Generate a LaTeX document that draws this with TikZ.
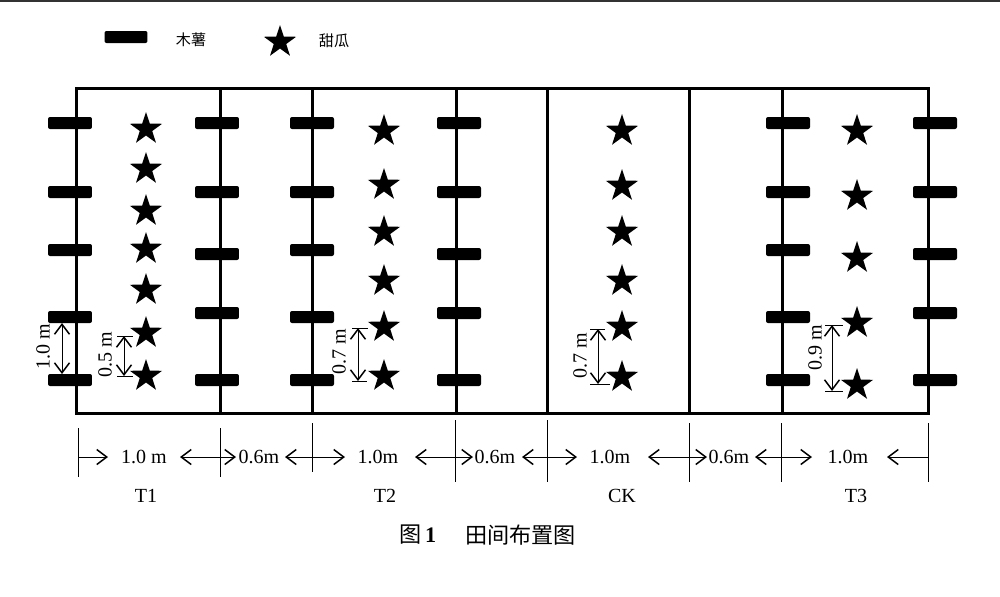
\documentclass[tikz,border=0pt]{standalone}
\usepackage{fontspec}
\setmainfont{Liberation Serif}
\newfontfamily\cjk{Noto Sans CJK SC}
\usetikzlibrary{shapes.geometric,arrows.meta}
\begin{document}
\begin{tikzpicture}[x=0.02cm,y=-0.02cm,
  frame/.style={line width=0.06cm,line cap=rect},
  bar/.style={fill=black,rounded corners=0.04cm,minimum width=0.88cm,minimum height=0.24cm,inner sep=0,draw=none},
  melon/.style={star,star points=5,star point ratio=2.6,fill=black,minimum size=0.68cm,inner sep=0,draw=none},
  dimline/.style={line width=0.02cm},
  tipr/.style={-{Straight Barb[length=0.2cm,width=0.3cm,line width=0.03cm]}},
  tipb/.style={{Straight Barb[length=0.2cm,width=0.3cm,line width=0.03cm]}-{Straight Barb[length=0.2cm,width=0.3cm,line width=0.03cm]}},
  lab/.style={font=\fontsize{11.4}{13}\selectfont,inner sep=0},
  cjklab/.style={font=\cjk\fontsize{8.6}{10}\selectfont,inner sep=0},
  caption/.style={font=\fontsize{12.6}{14}\selectfont,inner sep=0}
]
\useasboundingbox (0,0) rectangle (1000,596);
% top rule
\draw[line width=0.04cm,black!80] (0,1) -- (1000,1);

% legend
\node[bar,minimum width=0.86cm] (legbar) at (126,37) {};
\node[cjklab] (legcas) at (191,40) {木薯};
\node[melon] (legstar) at (280,42) {};
\node[cjklab] (legmel) at (334,41) {甜瓜};

% field frame
\coordinate (tl) at (76,88);
\coordinate (br) at (928,413);
\draw[frame] (tl) rectangle (br);
\foreach \x/\n in {220/v1,312/v2,456/v3,547/v4,689/v5,782/v6}{
  \coordinate (\n t) at (\x,88);
  \coordinate (\n b) at (\x,413);
  \draw[frame] (\n t) -- (\n b);
}

% cassava bars
\foreach \cx/\nm in {70/a,312/c,788/e}{
  \foreach \y [count=\i] in {123,192,250,317,380}{
    \node[bar] (bar\nm\i) at (\cx,\y) {};
  }
}
\foreach \cx/\nm in {217/b,459/d,935/f}{
  \foreach \y [count=\i] in {123,192,254,313,380}{
    \node[bar] (bar\nm\i) at (\cx,\y) {};
  }
}

% melons
\foreach \y [count=\i] in {129,169,211,249,290,333,376}{
  \node[melon] (sA\i) at (146,\y) {};
}
\foreach \y [count=\i] in {131,185,232,281,327,376}{
  \node[melon] (sB\i) at (384,\y) {};
}
\foreach \y [count=\i] in {131,186,232,281,327,377}{
  \node[melon] (sC\i) at (622,\y) {};
}
\foreach \y [count=\i] in {131,196,258,323,385}{
  \node[melon] (sD\i) at (857,\y) {};
}

% vertical dimensions
\coordinate (p1a) at (62,323); \coordinate (p1b) at (62,374);
\draw[dimline,tipb] (p1a) -- (p1b);
\node[lab,rotate=90] (l1) at (43,347) {1.0 m};

\coordinate (p2a) at (124,336); \coordinate (p2b) at (124,376);
\draw[dimline] (117,336) -- (133,336);
\draw[dimline] (117,376) -- (133,376);
\draw[dimline,tipb] (p2a) -- (p2b);
\node[lab,rotate=90] (l2) at (105,355) {0.5 m};

\coordinate (p3a) at (358,328); \coordinate (p3b) at (358,381);
\draw[dimline] (352,328) -- (368,328);
\draw[dimline] (352,381) -- (367,381);
\draw[dimline,tipb] (p3a) -- (p3b);
\node[lab,rotate=90] (l3) at (339,352) {0.7 m};

\coordinate (p4a) at (598,329); \coordinate (p4b) at (598,384);
\draw[dimline] (590,329) -- (605,329);
\draw[dimline] (590,384) -- (610,384);
\draw[dimline,tipb] (p4a) -- (p4b);
\node[lab,rotate=90] (l4) at (580,356) {0.7 m};

\coordinate (p5a) at (832,325); \coordinate (p5b) at (832,391);
\draw[dimline] (825,325) -- (843,325);
\draw[dimline] (825,391) -- (843,391);
\draw[dimline,tipb] (p5a) -- (p5b);
\node[lab,rotate=90] (l5) at (815,348) {0.9 m};

% bottom ticks
\foreach \x/\n/\ya/\yb in {78/d0/428/477,220/d1/428/477,312/d2/423/472,455/d3/420/482,547/d4/420/482,689/d5/423/482,781/d6/423/482,928/d7/423/482}{
  \coordinate (\n) at (\x,457);
  \draw[dimline] (\x,\ya) -- (\x,\yb);
}

% bottom labels
\node[lab] (w1) at (144,457) {1.0 m};
\node[lab] (w2) at (259,457) {0.6m};
\node[lab] (w3) at (378,457) {1.0m};
\node[lab] (w4) at (495,457) {0.6m};
\node[lab] (w5) at (610,457) {1.0m};
\node[lab] (w6) at (729,457) {0.6m};
\node[lab] (w7) at (848,457) {1.0m};

\coordinate (e1) at (108,457); \coordinate (e2) at (180,457);
\coordinate (e3) at (236,457); \coordinate (e4) at (285,457);
\coordinate (e5) at (345,457); \coordinate (e6) at (415,457);
\coordinate (e7) at (473,457); \coordinate (e8) at (522,457);
\coordinate (e9) at (577,457); \coordinate (e10) at (648,457);
\coordinate (e11) at (707,457); \coordinate (e12) at (755,457);
\coordinate (e13) at (812,457); \coordinate (e14) at (887,457);
\draw[dimline,tipr] (d0) -- (e1);
\draw[dimline,tipr] (d1) -- (e2);
\draw[dimline,tipr] (d1) -- (e3);
\draw[dimline,tipr] (d2) -- (e4);
\draw[dimline,tipr] (d2) -- (e5);
\draw[dimline,tipr] (d3) -- (e6);
\draw[dimline,tipr] (d3) -- (e7);
\draw[dimline,tipr] (d4) -- (e8);
\draw[dimline,tipr] (d4) -- (e9);
\draw[dimline,tipr] (d5) -- (e10);
\draw[dimline,tipr] (d5) -- (e11);
\draw[dimline,tipr] (d6) -- (e12);
\draw[dimline,tipr] (d6) -- (e13);
\draw[dimline,tipr] (d7) -- (e14);

% plot names
\node[lab] (T1) at (146,496) {T1};
\node[lab] (T2) at (385,496) {T2};
\node[lab] (CK) at (622,496) {CK};
\node[lab] (T3) at (856,496) {T3};

% caption
\node[caption,anchor=west] (cap1) at (399,535) {{\cjk 图}\,\textbf{1}};
\node[caption,anchor=west] (cap2) at (465,535) {\cjk 田间布置图};
\end{tikzpicture}
\end{document}
